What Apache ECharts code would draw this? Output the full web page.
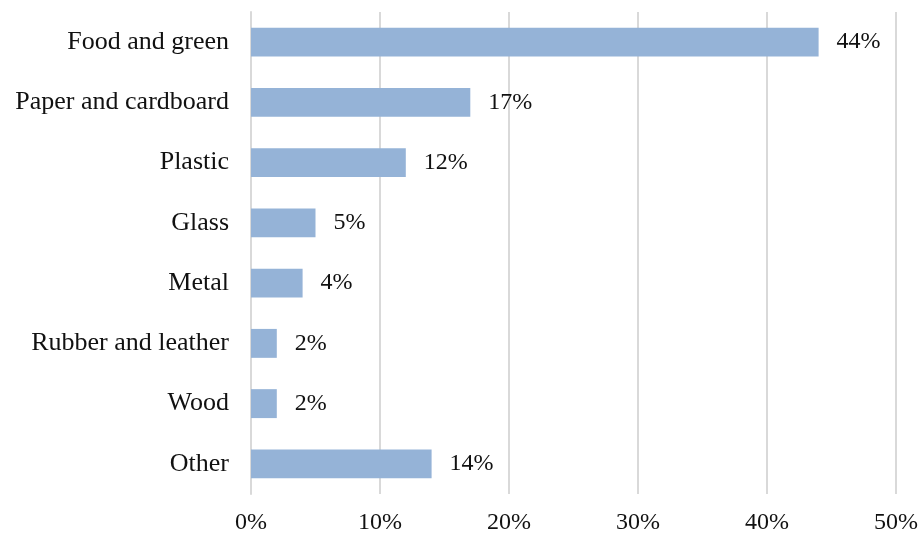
<!DOCTYPE html>
<html>
<head>
<meta charset="utf-8">
<script src="https://cdn.jsdelivr.net/npm/echarts@6/dist/echarts.min.js"></script>
<style>
  html, body { margin: 0; padding: 0; background: #fff; }
  #chart { width: 921px; height: 540px; }
</style>
</head>
<body>
<div id="chart"></div>
<script>
// Waste composition by material (share of total, %)
const categories = ['Food and green', 'Paper and cardboard', 'Plastic', 'Glass', 'Metal', 'Rubber and leather', 'Wood', 'Other'];
const shares = [44, 17, 12, 5, 4, 2, 2, 14];
const xTicks = [0, 10, 20, 30, 40, 50];

const font = '"Liberation Serif", "Times New Roman", serif';
const textColor = '#111';
const chart = echarts.init(document.getElementById('chart'));
chart.setOption({
  animation: false,
  grid: { left: 251, right: 22, top: 12, bottom: 46, containLabel: false },
  xAxis: {
    type: 'value',
    min: xTicks[0],
    max: xTicks[xTicks.length - 1],
    interval: 10,
    axisLine: { show: false },
    axisTick: { show: false },
    splitLine: { show: true, lineStyle: { color: '#d9d9d9', width: 2 } },
    axisLabel: {
      formatter: v => v + '%',
      color: textColor,
      fontFamily: font,
      fontSize: 24,
      margin: 17
    }
  },
  yAxis: {
    type: 'category',
    data: categories,
    inverse: true,
    axisLine: { show: true, lineStyle: { color: '#d9d9d9', width: 2 } },
    axisTick: { show: false },
    axisLabel: { color: textColor, fontFamily: font, fontSize: 26, margin: 22 }
  },
  series: [{
    type: 'bar',
    data: shares,
    barWidth: '48%',
    itemStyle: { color: '#95b3d7' },
    label: {
      show: true,
      position: 'right',
      distance: 18,
      formatter: p => p.value + '%',
      color: textColor,
      fontFamily: font,
      fontSize: 24
    }
  }]
});
</script>
</body>
</html>
